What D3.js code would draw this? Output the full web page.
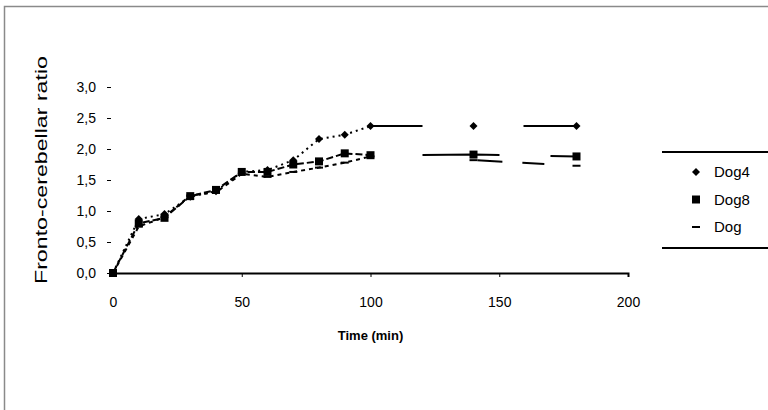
<!DOCTYPE html>
<html>
<head>
<meta charset="utf-8">
<script src="https://cdn.jsdelivr.net/npm/d3@7"></script>
<style>
  body { margin: 0; background: #fff; }
  text { font-family: "Liberation Sans", Arial, sans-serif; fill: #000; }
</style>
</head>
<body>
<div id="chart"></div>
<script>
// data
var times = [0, 10, 20, 30, 40, 50, 60, 70, 80, 90, 100, 140, 180];
var seriesNames = ["Dog4", "Dog8", "Dog"];
var dog4 = [0, 0.87, 0.95, 1.23, 1.32, 1.63, 1.66, 1.82, 2.16, 2.23, 2.37, 2.37, 2.37];
var dog8 = [0, 0.80, 0.89, 1.24, 1.34, 1.63, 1.63, 1.75, 1.80, 1.93, 1.90, 1.91, 1.88];
var dog  = [0, 0.75, 0.90, 1.25, 1.30, 1.60, 1.55, 1.63, 1.70, 1.78, 1.88, 1.82, 1.73];
var xTicks = [0, 50, 100, 150, 200];
var yTicks = [0, 0.5, 1, 1.5, 2, 2.5, 3];

var width = 768, height = 410;

var svg = d3.select("#chart").append("svg")
    .attr("width", width)
    .attr("height", height);

// outer frame (cut at right and bottom)
svg.append("rect")
    .attr("x", 4.5).attr("y", 6.5)
    .attr("width", 800).attr("height", 500)
    .attr("fill", "none")
    .attr("stroke", "#8a8a8a")
    .attr("stroke-width", 1.5);

var x = d3.scaleLinear().domain([0, 200]).range([113, 628]);
var y = d3.scaleLinear().domain([0, 3]).range([273, 87]);

var fmt = function(d) { return d3.format(".1f")(d).replace(".", ","); };

// x axis
var xAxis = svg.append("g")
    .attr("transform", "translate(0," + y(0) + ")")
    .call(d3.axisBottom(x).tickValues(xTicks).tickSize(4).tickPadding(20));
xAxis.select(".domain").attr("stroke", "#000").attr("stroke-width", 2);
xAxis.selectAll("text").style("font-size", "14px").style("font-family", "Liberation Sans, Arial");

// y axis (no axis line)
var yAxis = svg.append("g")
    .attr("transform", "translate(111,0)")
    .call(d3.axisLeft(y).tickValues(yTicks).tickFormat(fmt).tickSize(4).tickPadding(11));
yAxis.select(".domain").remove();
yAxis.selectAll("text").style("font-size", "14px").style("font-family", "Liberation Sans, Arial");

// axis titles
svg.append("text")
    .attr("transform", "translate(47,170) rotate(-90)")
    .attr("text-anchor", "middle")
    .attr("textLength", 228)
    .attr("lengthAdjust", "spacingAndGlyphs")
    .style("font-size", "17px")
    .text("Fronto-cerebellar ratio");

svg.append("text")
    .attr("x", x(100))
    .attr("y", 340)
    .attr("text-anchor", "middle")
    .style("font-size", "13px")
    .style("font-weight", "bold")
    .text("Time (min)");

// series
var series = [
    { name: seriesNames[0], values: dog4, marker: "diamond", early: "2,4", late: "52,101" },
    { name: seriesNames[1], values: dog8, marker: "square", early: "7,3", late: "0,52,77,51,80" },
    { name: seriesNames[2], values: dog, marker: "dash", early: "4,4", late: "0,107,25,20,22,40" }
];

var line = d3.line()
    .x(function(d) { return x(d.t); })
    .y(function(d) { return y(d.v); });

series.forEach(function(s) {
    var pts = times.map(function(t, i) { return { t: t, v: s.values[i] }; });
    var split = times.indexOf(100);

    svg.append("path")
        .datum(pts.slice(0, split + 1))
        .attr("d", line)
        .attr("fill", "none")
        .attr("stroke", "#000")
        .attr("stroke-width", 2)
        .attr("stroke-dasharray", s.early);

    svg.append("path")
        .datum(pts.slice(split))
        .attr("d", line)
        .attr("fill", "none")
        .attr("stroke", "#000")
        .attr("stroke-width", 2)
        .attr("stroke-dasharray", s.late);

    drawMarkers(svg, pts, s.marker);
});

function drawMarkers(g, pts, type) {
    g.append("g").selectAll("path")
        .data(pts)
        .enter().append("path")
        .attr("transform", function(d) { return "translate(" + x(d.t) + "," + y(d.v) + ")"; })
        .attr("d", markerPath(type))
        .attr("fill", "#000");
}

function markerPath(type) {
    if (type === "diamond") return "M0,-4L4,0L0,4L-4,0Z";
    if (type === "square") return "M-4,-4H4V4H-4Z";
    return "M-4,-1H4V1H-4Z";
}

// legend
var legend = svg.append("g");
legend.append("line")
    .attr("x1", 662).attr("x2", 768).attr("y1", 152).attr("y2", 152)
    .attr("stroke", "#000").attr("stroke-width", 2);
legend.append("line")
    .attr("x1", 662).attr("x2", 768).attr("y1", 248).attr("y2", 248)
    .attr("stroke", "#000").attr("stroke-width", 2);

series.forEach(function(s, i) {
    var ly = 172 + i * 27.5;
    legend.append("path")
        .attr("transform", "translate(696," + ly + ")")
        .attr("d", markerPath(s.marker))
        .attr("fill", "#000");
    legend.append("text")
        .attr("x", 714)
        .attr("y", ly + 5)
        .style("font-size", "15px")
        .text(s.name);
});
</script>
</body>
</html>
